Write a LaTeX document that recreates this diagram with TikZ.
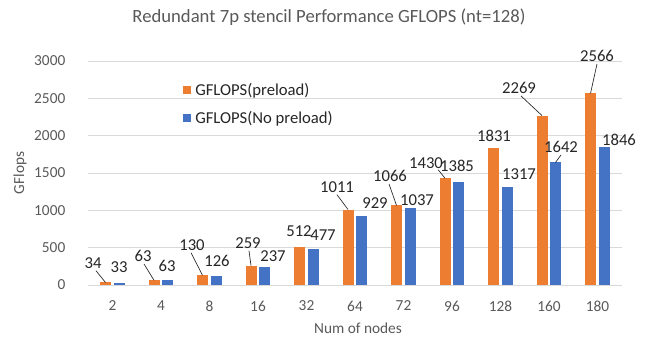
\documentclass[tikz,border=0pt]{standalone}
\usepackage{fontspec}
\setmainfont{Carlito}
\definecolor{preload}{HTML}{ED7D31}
\definecolor{nopreload}{HTML}{4472C4}
\definecolor{gridgray}{HTML}{D9D9D9}
\definecolor{labelgray}{HTML}{595959}
\begin{document}
\begin{tikzpicture}[x=0.75pt, y=0.75pt,
    ticklabel/.style={text=labelgray, font=\fontsize{11.5}{14}\selectfont},
    val/.style={text=black!85, font=\fontsize{12.5}{15}\selectfont, inner sep=0pt},
    legendtext/.style={text=black!85, font=\fontsize{12.5}{15}\selectfont, anchor=west, inner sep=0pt},
    leader/.style={black!85, line width=0.5pt}]
    \useasboundingbox (0,0) rectangle (648,343);
    % grid and y ticks (zero at y=58, 0.074667 per GFlop)
    \foreach \v in {0,500,...,3000} {
        \draw [gridgray, line width=0.75pt] (88, {58+0.074667*\v}) -- (622, {58+0.074667*\v});
        \node [ticklabel, anchor=east] (y\v) at (70, {58+0.074667*\v}) {\v};
    }
    % bars
    \foreach \c/\p/\n [count=\i from 0] in {2/34/33, 4/63/63, 8/130/126, 16/259/237, 32/512/477, 64/1011/929, 72/1066/1037, 96/1430/1385, 128/1831/1317, 160/2269/1642, 180/2566/1846} {
        \pgfmathsetmacro\cx{112.5+48.5*\i}
        \fill [preload] (\cx-12.5, 58) rectangle (\cx-1.5, {58+0.074667*\p});
        \fill [nopreload] (\cx+1, 58) rectangle (\cx+12, {58+0.074667*\n});
        \coordinate (tp\c) at (\cx-7, {58+0.074667*\p});
        \coordinate (tn\c) at (\cx+6.5, {58+0.074667*\n});
        \node [ticklabel] (x\c) at (\cx, 37) {\c};
    }
    \node [text=labelgray, font=\fontsize{14}{17}\selectfont] (title) at (329, 326) {Redundant 7p stencil Performance GFLOPS (nt=128)};
    \node [ticklabel, rotate=90] (ylab) at (20, 170) {GFlops};
    \node [ticklabel] (xlab) at (358, 15) {Num of nodes};
    % legend
    \fill [preload] (183, 249) rectangle (190.5, 256.5);
    \node [legendtext] (lgp) at (195, 252.5) {GFLOPS(preload)};
    \fill [nopreload] (183, 221) rectangle (190.5, 228.5);
    \node [legendtext] (lgn) at (195, 224.5) {GFLOPS(No preload)};
    % value labels
    \node [val] (lp2) at (93, 80) {34};
    \node [val] (ln2) at (119, 76) {33};
    \node [val] (lp4) at (143, 87) {63};
    \node [val] (ln4) at (167, 77) {63};
    \node [val] (lp8) at (192, 98) {130};
    \node [val] (ln8) at (217, 82) {126};
    \node [val] (lp16) at (248, 100) {259};
    \node [val] (ln16) at (273, 87) {237};
    \node [val] (lp32) at (299, 112) {512};
    \node [val] (ln32) at (323, 108) {477};
    \node [val] (lp64) at (337, 156) {1011};
    \node [val] (ln64) at (375, 140) {929};
    \node [val] (lp72) at (390, 167) {1066};
    \node [val] (ln72) at (417, 143) {1037};
    \node [val] (lp96) at (426, 180) {1430};
    \node [val] (ln96) at (457, 177) {1385};
    \node [val] (lp128) at (494, 207) {1831};
    \node [val] (ln128) at (519, 169) {1317};
    \node [val] (lp160) at (519, 255) {2269};
    \node [val] (ln160) at (561, 196) {1642};
    \node [val] (lp180) at (597, 287) {2566};
    \node [val] (ln180) at (619, 203) {1846};
    % leader lines
    \draw [leader] (lp2.south) ++(3,-2) -- (tp2);
    \draw [leader] (lp4.south) ++(1,-2) -- (tp4);
    \draw [leader] (lp8.south) ++(-1,-2) -- (tp8);
    \draw [leader] (lp16.south) ++(1,-2) -- (tp16);
    \draw [leader] (lp64.south) ++(0,-2) -- (tp64);
    \draw [leader] (lp72.south) ++(-1,-2) -- (tp72);
    \draw [leader] (lp96.south east) ++(-5,-1) -- (tp96);
    \draw [leader] (lp160.south) ++(2,-2) -- (tp160);
    \draw [leader] (ln160.south) ++(0,-2) -- (tn160);
    \draw [leader] (lp180.south) ++(0,-2) -- (tp180);
\end{tikzpicture}
\end{document}
